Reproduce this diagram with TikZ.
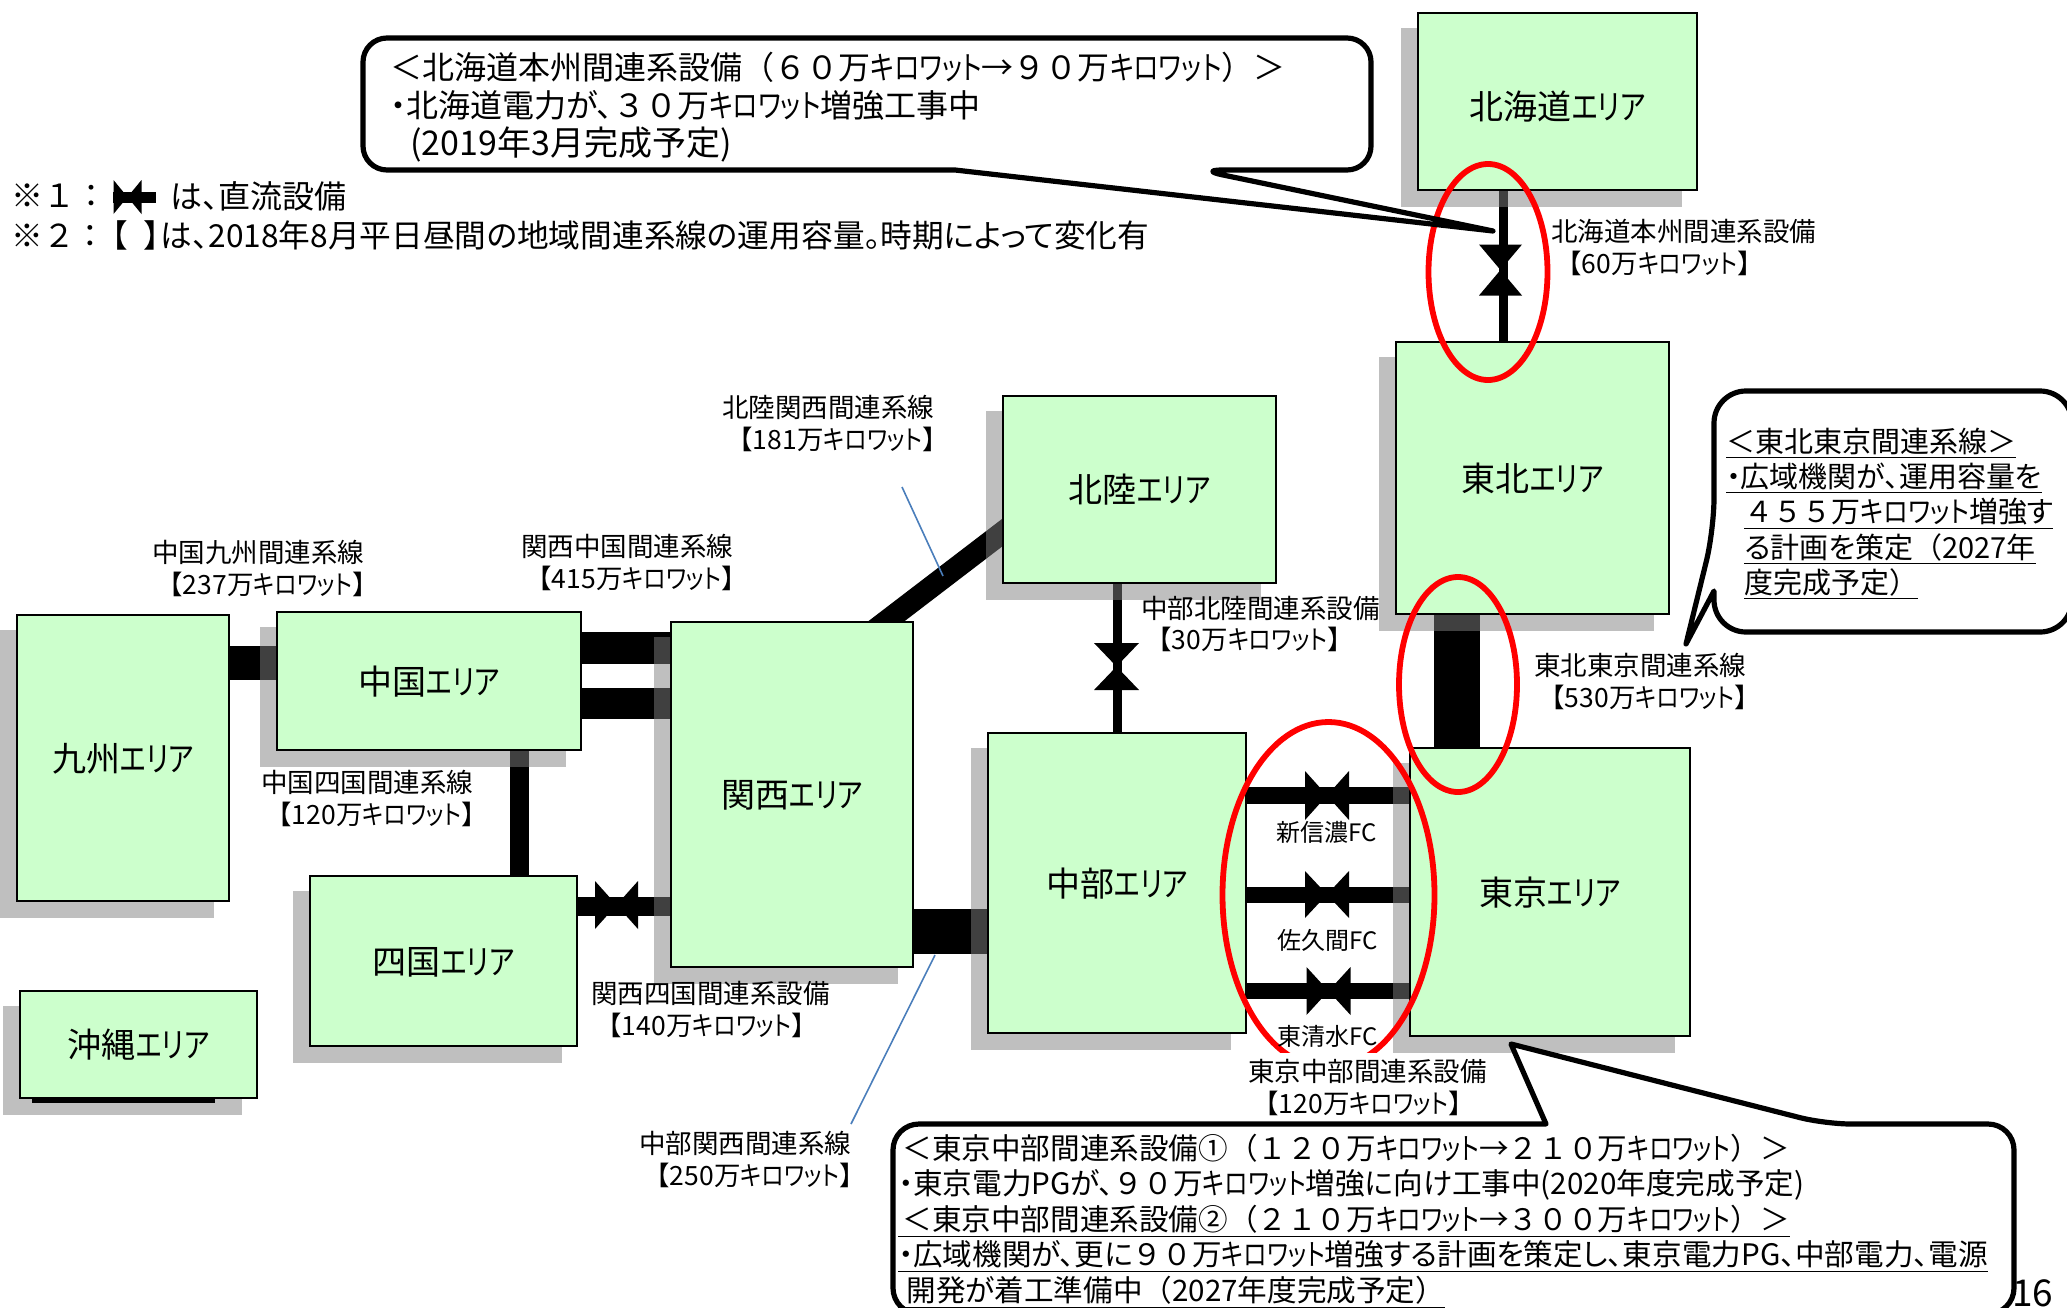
\documentclass[tikz,border=0pt]{standalone}
\usepackage{fontspec}
\setmainfont[RawFeature=+palt]{Noto Sans CJK JP}
\newfontfamily\kanafont[FakeStretch=0.86,RawFeature=+palt]{Noto Sans CJK JP}
\newfontfamily\areakana[FakeStretch=0.80,RawFeature=+palt]{Noto Sans CJK JP}
\newfontfamily\fullfont{Noto Sans CJK JP}
\newcommand{\K}[1]{{\kanafont #1}}
\newcommand{\KA}[1]{{\areakana #1}}
\newcommand{\F}[1]{{\fullfont #1}}
\newcommand{\kw}[1]{\hspace*{2pt}\F{【}#1万\K{キロワット}\F{】}}
\usetikzlibrary{calc}
\definecolor{areagreen}{HTML}{CCFFCC}
\definecolor{leaderblue}{HTML}{4A7EBB}
\pgfdeclarelayer{conn}\pgfdeclarelayer{shad}\pgfdeclarelayer{top}
\pgfsetlayers{conn,shad,main,top}
\tikzset{
  x=0.5pt,y=-0.5pt,
  conn/.style={draw=black,line cap=butt},
  shadowfill/.style={fill=black!50,fill opacity=0.5},
  areanode/.style={draw=black,line width=1.25pt,fill=areagreen,inner sep=0,font=\fontsize{17}{20}\selectfont},
  link/.style={anchor=west,align=left,inner sep=0,font=\fontsize{13.25}{16}\selectfont},
  fc/.style={inner sep=0,font=\fontsize{12}{14}\selectfont},
  oval/.style={draw=red,line width=2.9pt},
  bubble/.style={draw=black,fill=white,line width=2.6pt,line join=round},
  leader/.style={draw=leaderblue,line width=0.8pt},
  note/.style={anchor=west,align=left,inner sep=0},
}
% name, x1,y1,x2,y2, text
\newcommand{\areabox}[6]{%
  \begin{pgfonlayer}{shad}
    \fill[shadowfill] (#2-17,#3+15) rectangle (#4-15,#5+17);
  \end{pgfonlayer}
  \pgfmathsetmacro{\bw}{(#4-#2)*0.5}\pgfmathsetmacro{\bh}{(#5-#3)*0.5}
  \node[areanode,minimum width=\bw pt,minimum height=\bh pt] (#1) at ({(#2+#4)/2},{(#3+#5)/2}) {#6};
}
\newcommand{\alabel}[2]{\raisebox{-#1pt}[13pt][0pt]{#2}}
\newcommand{\valveH}[4]{\fill[black] (#1-#3,#2-#4) -- (#1-#3,#2+#4) -- (#1+#3,#2-#4) -- (#1+#3,#2+#4) -- cycle;}
\newcommand{\valveV}[4]{\fill[black] (#1-#3,#2-#4) -- (#1+#3,#2-#4) -- (#1-#3,#2+#4) -- (#1+#3,#2+#4) -- cycle;}
\begin{document}
\begin{tikzpicture}
\useasboundingbox (0,0) rectangle (2067,1307);
% areas
\areabox{hokkaido}{1418}{13}{1697}{190}{\alabel{2.7}{北海道\KA{エリア}}}
\areabox{tohoku}{1396}{342}{1669}{614}{\alabel{0}{東北\KA{エリア}}}
\areabox{tokyo}{1410}{748}{1690}{1036}{\alabel{0}{東京\KA{エリア}}}
\areabox{chubu}{988}{733}{1246}{1033}{\alabel{0}{中部\KA{エリア}}}
\areabox{hokuriku}{1003}{396}{1276}{583}{\alabel{0}{北陸\KA{エリア}}}
\areabox{kansai}{671}{622}{913}{967}{\alabel{0}{関西\KA{エリア}}}
\areabox{chugoku}{277}{612}{581}{750}{\alabel{0}{中国\KA{エリア}}}
\areabox{shikoku}{310}{876}{577}{1046}{\alabel{0}{四国\KA{エリア}}}
\areabox{kyushu}{17}{615}{229}{901}{\alabel{0}{九州\KA{エリア}}}
\areabox{okinawa}{20}{991}{257}{1098}{\alabel{0}{沖縄\KA{エリア}}}
% connectors
\begin{pgfonlayer}{conn}
\draw[conn,line width=4.5pt] (hokkaido.south -| 1503,0) -- (tohoku.north -| 1503,0);
\draw[conn,line width=23pt] (tohoku.south -| 1457,0) -- (tokyo.north -| 1457,0);
\draw[conn,line width=4.5pt] (hokuriku.south -| 1117.5,0) -- (chubu.north -| 1117.5,0);
\draw[conn,line width=11pt,shorten <=-8pt,shorten >=-8pt] (kansai.north -| 887,0) -- (hokuriku.west |- 0,533);
\draw[conn,line width=22.5pt] (kansai.east |- 0,931.5) -- (chubu.west |- 0,931.5);
\draw[conn,line width=17pt] (kyushu.east |- 0,663) -- (chugoku.west |- 0,663);
\draw[conn,line width=16pt] (chugoku.east |- 0,648) -- (kansai.west |- 0,648);
\draw[conn,line width=15.5pt] (chugoku.east |- 0,703.5) -- (kansai.west |- 0,703.5);
\draw[conn,line width=9.5pt] (chugoku.south -| 519.5,0) -- (shikoku.north -| 519.5,0);
\draw[conn,line width=9.5pt] (shikoku.east |- 0,906.5) -- (kansai.west |- 0,906.5);
\draw[conn,line width=8.5pt] (chubu.east |- 0,795.5) -- (tokyo.west |- 0,795.5);
\draw[conn,line width=8pt] (chubu.east |- 0,895) -- (tokyo.west |- 0,895);
\draw[conn,line width=8pt] (chubu.east |- 0,991) -- (tokyo.west |- 0,991);
\end{pgfonlayer}
\begin{pgfonlayer}{top}
\clip (0,0) rectangle (2067,1307);
\fill[black] (32,1099) rectangle (215,1103);
% valves
\valveV{1500.5}{270}{21.5}{25.5}
\valveV{1116.5}{666.5}{22.5}{23.5}
\valveH{616.5}{905}{21.5}{24}
\valveH{1327}{795.5}{22}{24.5}
\valveH{1327}{894.5}{22}{23.5}
\valveH{1328.5}{991}{22}{24}
% leaders
\coordinate (lh1) at (902,487); \coordinate (lh2) at (943,576);
\draw[leader] (lh1) -- (lh2);
\coordinate (lc1) at (935,955); \coordinate (lc2) at (851,1124);
\draw[leader] (lc1) -- (lc2);
% ovals
\draw[oval] (1488,272) ellipse [x radius=29.75pt,y radius=54pt];
\draw[oval] (1458,684.5) ellipse [x radius=29.5pt,y radius=53.75pt];
\draw[oval] (1328.5,895) ellipse [x radius=53pt,y radius=86.5pt];
% link labels
\node[link] (l1) at (1551,247) {北海道本州間連系設備\\\kw{60}};
\node[link] (l2) at (1534,681) {東北東京間連系線\\\kw{530}};
\node[link] (l3) at (1141,624) {中部北陸間連系設備\\\kw{30}};
\node[link] (l4) at (722,423) {北陸関西間連系線\\\kw{181}};
\node[link] (l5) at (521,562) {関西中国間連系線\\\kw{415}};
\node[link] (l6) at (152,568) {中国九州間連系線\\\kw{237}};
\node[link] (l7) at (261,798) {中国四国間連系線\\\kw{120}};
\node[link] (l8) at (591,1009) {関西四国間連系設備\\\kw{140}};
\node[link] (l9) at (639,1159) {中部関西間連系線\\\kw{250}};
\node[link,fill=white,minimum height=34pt,inner xsep=1pt] (l10) at (1246,1087) {東京中部間連系設備\\\kw{120}};
\node[fc] (f1) at (1327,832) {新信濃FC};
\node[fc] (f2) at (1328,940) {佐久間FC};
\node[fc] (f3) at (1328,1036) {東清水FC};
% callouts
\path[bubble] (955,170) [rounded corners=12pt] -- (363,170) -- (363,38) -- (1371,38) -- (1371,170) -- (1199,170) [sharp corners] -- (1493,231) -- cycle;
\path[bubble] (1714,591) [rounded corners=16pt] -- (1714,632) -- (2072,632) -- (2072,391) -- (1714,391) -- (1714,530) [sharp corners] -- (1686,644) -- cycle;
\path[bubble] (1546,1124) [rounded corners=13pt] -- (893,1124) -- (893,1314) -- (2014,1314) -- (2014,1124) -- (1825,1124) [sharp corners] -- (1511,1044) -- cycle;
\node[note,font=\fontsize{16}{19}\selectfont] (c1) at (390,107) {\F{＜}北海道本州間連系設備\F{（６０}万\KA{キロワット}→\F{９０}万\KA{キロワット}\F{）＞}\\・北海道電力が、\F{３０}万\KA{キロワット}増強工事中\\\hspace*{10pt}{\fontsize{17}{19}\selectfont (2019年3月完成予定)}};
\node[note,font=\fontsize{14.5}{17.6}\selectfont] (c2) at (1726,514) {\underline{\F{＜}東北東京間連系線\F{＞}}\\\underline{・広域機関が、運用容量を}\\\hspace*{9pt}\underline{\F{４５５}万\K{キロワット}増強す}\\\hspace*{9pt}\underline{る計画を策定\F{（}2027年}\\\hspace*{9pt}\underline{度完成予定\F{）}}};
\node[note,font=\fontsize{14.8}{17.75}\selectfont] (c3) at (898,1221) {\hspace*{2pt}\F{＜}東京中部間連系設備①\F{（１２０}万\KA{キロワット}→\F{２１０}万\KA{キロワット}\F{）＞}\\・東京電力PGが、\F{９０}万\KA{キロワット}増強に向け工事中(2020年度完成予定)\\\underline{\hspace*{2pt}\F{＜}東京中部間連系設備②\F{（２１０}万\KA{キロワット}→\F{３００}万\KA{キロワット}\F{）＞}}\\\underline{・広域機関が、更に\F{９０}万\KA{キロワット}増強する計画を策定し、東京電力PG、中部電力、電源}\\\underline{\hspace*{4pt}開発が着工準備中\F{（}2027年度完成予定\F{）}}};
% legend
\node[note,font=\fontsize{16}{19}\selectfont] (n1) at (11,196) {\F{※１：}};
\coordinate (v1) at (113,197); \coordinate (v2) at (156,197);
\draw[conn,line width=5.5pt] (v1) -- (v2);
\valveH{127.5}{197}{14}{17}
\node[note,font=\fontsize{16}{19}\selectfont] (n2) at (170,196) {は、直流設備};
\node[note,font=\fontsize{15.85}{19}\selectfont] (n3) at (11,235) {\F{※２：}\hspace*{-5pt}\F{【}\hspace*{7.5pt}\F{】}\hspace*{-7pt}は、2018年8月平日昼間の地域間連系線の運用容量。時期によって変化有};
\node[anchor=base west,inner sep=0,font=\fontsize{18.5}{22}\selectfont] (pg) at (2012,1306) {16};
\end{pgfonlayer}
\end{tikzpicture}
\end{document}
